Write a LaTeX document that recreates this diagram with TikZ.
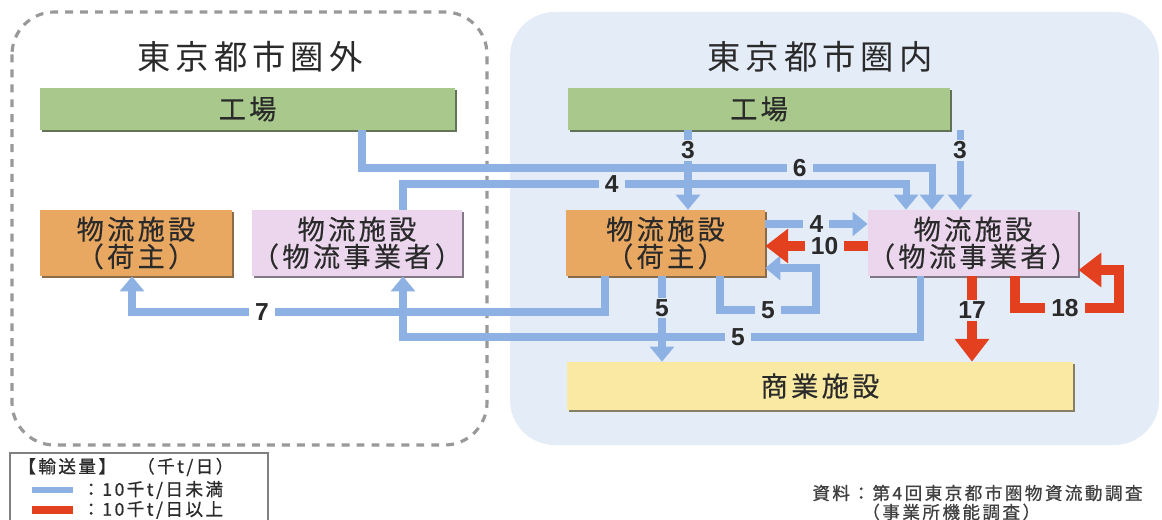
\documentclass[tikz,border=0pt]{standalone}
\usepackage{fontspec}
\newfontfamily\jp{Noto Sans CJK JP}
\newfontfamily\jpw[LetterSpace=12,FakeBold=0.3]{Noto Sans CJK JP}
\newfontfamily\jpt[LetterSpace=15]{Noto Sans CJK JP}
\newfontfamily\jps[LetterSpace=14,FakeBold=0.8]{Noto Sans CJK JP}
\newfontfamily\numf{Liberation Sans}
\usetikzlibrary{arrows.meta,shadows}
\definecolor{bgblue}{HTML}{E4ECF8}
\definecolor{flowblue}{HTML}{8DB1E2}
\definecolor{flowred}{HTML}{E3401F}
\definecolor{grn}{HTML}{A8C98B}
\definecolor{org}{HTML}{E9A862}
\definecolor{pnk}{HTML}{EBD6EE}
\definecolor{ylw}{HTML}{FAE9A3}
\definecolor{txt}{HTML}{2A2A2A}
\definecolor{dashgray}{HTML}{999999}
\begin{document}
\begin{tikzpicture}[x=0.02cm,y=-0.02cm,
  box/.style={inner sep=0pt, align=center, text=txt,
    font=\jpw\fontsize{15.5}{15.5}\selectfont},
  gbox/.style={box, fill=grn, drop shadow={shadow xshift=1.3pt,shadow yshift=-1.3pt,fill=grn!50!black,opacity=0.9}},
  obox/.style={box, fill=org, drop shadow={shadow xshift=1.3pt,shadow yshift=-1.3pt,fill=org!55!black,opacity=0.9}},
  pbox/.style={box, fill=pnk, drop shadow={shadow xshift=1.3pt,shadow yshift=-1.3pt,fill=pnk!50!black,opacity=0.9}},
  ybox/.style={box, fill=ylw, drop shadow={shadow xshift=1.3pt,shadow yshift=-1.3pt,fill=ylw!50!black,opacity=0.9}},
  num/.style={fill=bgblue, inner xsep=3.5pt, inner ysep=1pt, text=txt,
    font=\numf\bfseries\fontsize{14}{14}\selectfont},
  numw/.style={num, fill=white},
  bl/.style={draw=flowblue, line width=4pt, -{Triangle[width=13.5pt,length=8.5pt]}},
  rd/.style={draw=flowred, line width=6pt, -{Triangle[width=19pt,length=13pt]}},
  title/.style={text=txt, font=\jpt\fontsize{19}{19}\selectfont},
]
\useasboundingbox (0,0) rectangle (1162,520);
\fill[white] (0,0) rectangle (1162,520);

% regions
\fill[bgblue, rounded corners=0.9cm] (510,12) rectangle (1159,445);
\draw[dashgray, line width=1.8pt, dash pattern=on 4.5pt off 4pt, rounded corners=0.85cm]
  (12,12) rectangle (487,445);

\node[title] (tout) at (250,57) {東京都市圏外};
\node[title] (tin) at (820,57) {東京都市圏内};

% boxes
\node[gbox, minimum width=8.3cm, minimum height=0.84cm] (lf) at (247.5,109) {工場};
\node[gbox, minimum width=7.64cm, minimum height=0.84cm] (rf) at (759,109) {工場};
\node[obox, minimum width=3.84cm, minimum height=1.32cm] (lo) at (136,243) {物流施設\\（荷主）};
\node[pbox, minimum width=3.96cm, minimum height=1.32cm] (lp) at (357,243) {物流施設\\（物流事業者）};
\node[obox, minimum width=3.98cm, minimum height=1.32cm] (ro) at (665.5,243) {物流施設\\（荷主）};
\node[pbox, minimum width=4.0cm, minimum height=1.32cm] (rp) at (973,243) {物流施設\\（物流事業者）};
\node[ybox, minimum width=10.12cm, minimum height=0.96cm] (ss) at (820,386) {商業施設};

% x / y reference coordinates
\foreach \x in {132,362,403,605,662,688,720,906,920,932,960,972,1015}
  \coordinate (c\x) at (\x,0);
\foreach \y in {224,246,268,270}
  \coordinate (y\y) at (0,\y);

% blue flows
\draw[bl] (rf.south -| c688) -- node[num,pos=0.25]{3} (ro.north -| c688);
\draw[bl] (rf.south -| c960) -- node[num,pos=0.25]{3} (rp.north -| c960);
\draw[bl] (lf.south -| c362) -- (362,168) -- node[num,pos=0.768]{6} (932,168) -- (rp.north -| c932);
\draw[bl] (lp.north -| c403) -- (403,184) -- node[num,pos=0.415]{4} (906,184) -- (rp.north -| c906);
\draw[bl] (ro.east |- y224) -- node[num,pos=0.5]{4} (rp.west |- y224);
\draw[bl] (ro.south -| c720) -- (720,310) -- node[num,pos=0.5]{5} (816,310) -- (816,268) -- (ro.east |- y268);
\draw[bl] (ro.south -| c605) -- (605,312) -- node[numw,pos=0.725]{7} (132,312) -- (lo.south -| c132);
\draw[bl] (rp.south -| c920) -- (920,337) -- node[num,pos=0.352]{5} (403,337) -- (lp.south -| c403);
\draw[bl] (ro.south -| c662) -- node[num,pos=0.37]{5} (ss.north -| c662);

% red flows
\draw[rd] (rp.west |- y246) -- node[num,pos=0.42]{10} (ro.east |- y246);
\draw[rd] (rp.south -| c972) -- node[num,pos=0.4]{17} (ss.north -| c972);
\draw[rd] (rp.south -| c1015) -- (1015,308) -- node[num,pos=0.48]{18} (1119,308) -- (1119,270) -- (rp.east |- y270);

% legend
\draw[gray, line width=0.9pt] (10,521) -- (10,453) -- (268,453) -- (268,521);
\node[anchor=west, inner sep=0pt, text=txt, font=\jps\fontsize{10}{10}\selectfont] (lg0) at (18,467) {【輸送量】\hspace{1.2em}（千t/日）};
\coordinate (lb1) at (32,490);
\coordinate (lb2) at (73,490);
\coordinate (lr1) at (32,510);
\coordinate (lr2) at (73,510);
\draw[flowblue, line width=3pt] (lb1) -- (lb2);
\draw[flowred, line width=4pt] (lr1) -- (lr2);
\node[anchor=west, inner sep=0pt, text=txt, font=\jps\fontsize{10}{10}\selectfont] (lg1) at (82,490) {：10千t/日未満};
\node[anchor=west, inner sep=0pt, text=txt, font=\jps\fontsize{10}{10}\selectfont] (lg2) at (82,510) {：10千t/日以上};

% source
\node[anchor=west, inner sep=0pt, text=black!75, font=\jps\fontsize{10}{10}\selectfont] (src1) at (812,493) {資料：第4回東京都市圏物資流動調査};
\node[anchor=west, inner sep=0pt, text=black!75, font=\jps\fontsize{10}{10}\selectfont] (src2) at (862,512) {（事業所機能調査）};
\end{tikzpicture}
\end{document}
